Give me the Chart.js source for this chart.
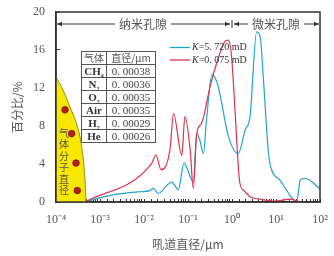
<!DOCTYPE html>
<html>
<head>
<meta charset="utf-8">
<script src="https://cdn.jsdelivr.net/npm/chart.js@4.4.1/dist/chart.umd.min.js"></script>
<style>
    html, body { margin: 0; padding: 0; background: #fff; }
    #wrap { position: relative; width: 334px; height: 256px; }
    #gasTable {
        position: absolute; left: 81px; top: 51px;
        border-collapse: collapse; background: #fff;
        font-family: "Liberation Serif", serif; font-size: 11px; color: #444;
    }
    #gasTable td {
        border: 1px solid #555; height: 12px; line-height: 12px;
        padding: 0; text-align: center;
    }
    #gasTable td.name { width: 24px; font-weight: bold; color: #333; }
    #gasTable td.val { width: 48px; }
    #gasTable td.head { font-family: "Noto Sans CJK SC", sans-serif; font-size: 10px; color: #555; }
    #gasTable sub { font-size: 6px; line-height: 0; }
</style>
</head>
<body>
<div id="wrap">
    <canvas id="poreChart" width="334" height="256"></canvas>
    <table id="gasTable"></table>
</div>
<script>
// 孔喉分布数据 (x: 吼道直径 μm, y: 百分比 %)
const blueX = [0.00046, 0.0017, 0.0081, 0.0138, 0.0162, 0.0209, 0.0427, 0.0603, 0.081, 0.132, 0.158, 0.186, 0.224, 0.263, 0.35, 0.41, 0.49, 0.832, 1.38, 2.0, 2.57, 3.63, 4.37, 5.13, 6.76, 7.94, 12.3, 20.9, 29.5, 35.5, 45.7, 100];
const blueY = [0, 0.7, 1.08, 1.2, 1.44, 0.9, 2.1, 1.3, 4.1, 2.1, 7.2, 6.5, 5.1, 8.6, 13.4, 13.1, 12.1, 6.9, 5.1, 7.6, 9.0, 17.9, 17.4, 13.2, 5.1, 3.4, 2.3, 0.7, 0, 2.3, 2.5, 1.4];

const redX = [0.00046, 0.0151, 0.0186, 0.0245, 0.0389, 0.0468, 0.0724, 0.0851, 0.112, 0.132, 0.158, 0.204, 0.316, 0.447, 0.692, 0.832, 0.977, 1.17, 1.39, 1.51, 1.97, 2.57, 4.37, 9.55, 20.9, 35.5];
const redY = [0, 4.1, 4.95, 3.4, 5.5, 9.3, 4.9, 9.0, 5.5, 1.44, 7.2, 8.3, 12.1, 14.6, 16.9, 17.05, 15.3, 9.7, 3.7, 2.0, 1.1, 0.56, 0.3, 0.1, 0.3, 0];

// 气体分子直径区域
const zoneX = [0.0001, 0.000144, 0.000208, 0.000285, 0.000351, 0.000411, 0.000456, 0.000481];
const zoneY = [13.16, 11.79, 10.0, 8.42, 6.84, 4.74, 2.32, 0];
const dotX = [0.00016, 0.000227, 0.000285, 0.000305];
const dotY = [9.7, 7.2, 4.1, 1.2];

const yTicks = [0, 4, 8, 12, 16, 20];
const seriesLabels = ['K=5. 720 mD', 'K=0. 075 mD'];
const seriesColors = ['#1fa3cf', '#e0314f'];

const gasNames = [['CH', '4'], ['N', '2'], ['O', '2'], ['Air', ''], ['H', '2'], ['He', '']];
const gasDiam = [0.00038, 0.00036, 0.00035, 0.00035, 0.00029, 0.00026];

// 表格
const tbl = document.getElementById('gasTable');
let html = '<tr><td class="head">气体</td><td class="head val">直径/μm</td></tr>';
gasNames.forEach((g, i) => {
    const v = gasDiam[i].toFixed(5).replace('.', '. ');
    html += `<tr><td class="name">${g[0]}<sub>${g[1]}</sub></td><td class="val">${v}</td></tr>`;
});
tbl.innerHTML = html;

const toPts = (xs, ys) => xs.map((x, i) => ({ x: x, y: ys[i] }));

const sup = { '-': '⁻', '0': '⁰', '1': '¹', '2': '²', '3': '³', '4': '⁴' };
const powLabel = (v) => {
    const l = Math.log10(v);
    const e = Math.round(l);
    if (Math.abs(l - e) > 1e-9) return '';
    return '10' + String(e).split('').map(c => sup[c]).join('');
};

// 边框、标注、图例
const decoPlugin = {
    id: 'deco',
    afterDraw(chart) {
        const { ctx, chartArea: a, scales } = chart;
        ctx.save();
        ctx.strokeStyle = '#333';
        ctx.lineWidth = 1.5;
        ctx.strokeRect(a.left, a.top, a.right - a.left, a.bottom - a.top);

        // 纳米 / 微米 箭头
        const yA = 24;
        const xMid = scales.x.getPixelForValue(1);
        ctx.lineWidth = 1;
        ctx.fillStyle = '#333';
        const arrow = (x, dir) => {
            ctx.beginPath();
            ctx.moveTo(x, yA);
            ctx.lineTo(x - dir * 5, yA - 2.2);
            ctx.lineTo(x - dir * 5, yA + 2.2);
            ctx.closePath();
            ctx.fill();
        };
        const seg = (x1, x2) => {
            ctx.beginPath();
            ctx.moveTo(x1, yA);
            ctx.lineTo(x2, yA);
            ctx.stroke();
        };
        seg(a.left + 1, 115);
        arrow(a.left + 1, -1);
        seg(171, xMid - 2);
        arrow(xMid - 2, 1);
        arrow(xMid + 2, -1);
        seg(xMid + 2, 248);
        seg(304, a.right - 1);
        arrow(a.right - 1, 1);
        ctx.beginPath();
        ctx.moveTo(xMid, yA - 4);
        ctx.lineTo(xMid, yA + 4);
        ctx.stroke();

        ctx.fillStyle = '#555';
        ctx.font = '12px "Noto Sans CJK SC"';
        ctx.textAlign = 'center';
        ctx.textBaseline = 'middle';
        ctx.fillText('纳米孔隙', 143, yA);
        ctx.fillText('微米孔隙', 276, yA);

        // 竖排文字
        ctx.font = '10px "Noto Sans CJK SC"';
        ctx.fillStyle = '#555';
        '气体分子直径'.split('').forEach((c, i) => {
            ctx.fillText(c, 64, 133 + i * 11.5);
        });

        // 图例
        ctx.textAlign = 'left';
        seriesLabels.forEach((lab, i) => {
            const y = 47.5 + i * 12.5;
            ctx.strokeStyle = seriesColors[i];
            ctx.lineWidth = 1.3;
            ctx.beginPath();
            ctx.moveTo(170, y);
            ctx.lineTo(190, y);
            ctx.stroke();
            ctx.fillStyle = '#333';
            ctx.font = 'italic 10px "Liberation Serif"';
            ctx.fillText(lab[0], 192, y);
            const w = ctx.measureText(lab[0]).width;
            ctx.font = '10px "Liberation Serif"';
            ctx.fillText(lab.slice(1), 192 + w, y);
        });
        ctx.restore();
    }
};

new Chart(document.getElementById('poreChart'), {
    type: 'line',
    data: {
        datasets: [
            {
                label: seriesLabels[1],
                data: toPts(redX, redY),
                borderColor: seriesColors[1],
                borderWidth: 1.2,
                pointRadius: 0,
                cubicInterpolationMode: 'monotone',
                fill: false,
            },
            {
                label: seriesLabels[0],
                data: toPts(blueX, blueY),
                borderColor: seriesColors[0],
                borderWidth: 1.2,
                pointRadius: 0,
                cubicInterpolationMode: 'monotone',
                fill: false,
            },
            {
                label: 'dots',
                data: toPts(dotX, dotY),
                showLine: false,
                pointRadius: 3.3,
                pointBackgroundColor: '#b3201c',
                pointBorderColor: '#7e1410',
                pointBorderWidth: 0.8,
            },
            {
                label: 'zone',
                data: toPts(zoneX, zoneY),
                borderColor: '#8f8f18',
                borderWidth: 1,
                backgroundColor: '#f8e800',
                pointRadius: 0,
                cubicInterpolationMode: 'monotone',
                fill: 'origin',
            },
        ]
    },
    options: {
        responsive: false,
        animation: false,
        layout: { padding: { left: 0, top: 12, right: 14, bottom: 0 } },
        plugins: {
            legend: { display: false },
            tooltip: { enabled: false },
        },
        scales: {
            x: {
                type: 'logarithmic',
                min: 0.0001,
                max: 100,
                afterFit: (s) => { s.height = 54; s.paddingLeft = 0; s.paddingRight = 0; },
                border: { color: '#333', width: 1.5 },
                grid: { drawOnChartArea: false, tickLength: -3, tickColor: '#333' },
                ticks: {
                    autoSkip: false,
                    maxRotation: 0,
                    padding: 14,
                    color: '#555',
                    font: { family: 'Liberation Serif', size: 12 },
                    callback: (v) => powLabel(v),
                },
                title: {
                    display: true,
                    text: '吼道直径/μm',
                    color: '#555',
                    font: { family: 'Noto Sans CJK SC', size: 12 },
                    padding: { top: 0, bottom: 4 },
                },
            },
            y: {
                min: 0,
                max: 20,
                afterFit: (s) => { s.width = 56; s.paddingTop = 0; s.paddingBottom = 0; },
                afterBuildTicks: (s) => { s.ticks = yTicks.map(v => ({ value: v })); },
                border: { color: '#333', width: 1.5 },
                grid: { drawOnChartArea: false, tickLength: -4, tickColor: '#333' },
                ticks: {
                    padding: 15,
                    color: '#555',
                    font: { family: 'Liberation Serif', size: 12 },
                },
                title: {
                    display: true,
                    text: '百分比/%',
                    color: '#555',
                    font: { family: 'Noto Sans CJK SC', size: 12 },
                    padding: { top: 10, bottom: 0 },
                },
            },
        },
    },
    plugins: [decoPlugin],
});
</script>
</body>
</html>
